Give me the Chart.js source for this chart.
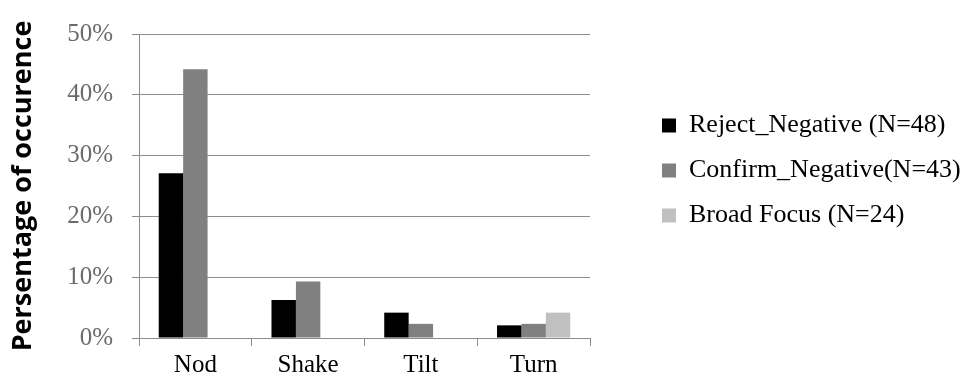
<!DOCTYPE html>
<html>
<head>
<meta charset="utf-8">
<script src="https://cdn.jsdelivr.net/npm/chart.js@4/dist/chart.umd.min.js"></script>
<style>
  html, body { margin: 0; padding: 0; background: #fff; }
</style>
</head>
<body>
<canvas id="myChart" width="965" height="382"></canvas>
<script>
// dati (percentuali)
const categories = ["Nod", "Shake", "Tilt", "Turn"];
const seriesNames = ["Reject_Negative (N=48)", "Confirm_Negative(N=43)", "Broad Focus (N=24)"];
const rejectNegative = [27.1, 6.25, 4.17, 2.08];
const confirmNegative = [44.2, 9.3, 2.33, 2.33];
const broadFocus = [null, null, null, 4.17];
const yTickValues = [0, 10, 20, 30, 40, 50];
const yTitle = "Persentage of occurence";

const serif = "'Liberation Serif', 'Times New Roman', serif";
const gridColor = "#8c8c8c";

const ctx = document.getElementById("myChart").getContext("2d");

// sposta la legenda un po' più in alto, come nell'originale
const legendShift = {
    id: "legendShift",
    afterLayout(chart) {
        chart.legend.top -= 30;
        chart.legend.bottom -= 30;
    },
};

const myChart = new Chart(ctx, {
    type: "bar",
    data: {
        labels: categories,
        datasets: [
            { label: seriesNames[0], data: rejectNegative, backgroundColor: "#000000" },
            { label: seriesNames[1], data: confirmNegative, backgroundColor: "#808080" },
            { label: seriesNames[2], data: broadFocus, backgroundColor: "#c0c0c0" },
        ],
    },
    plugins: [legendShift],
    options: {
        responsive: false,
        animation: false,
        devicePixelRatio: 1,
        layout: { padding: { top: 19, left: 0, right: 0, bottom: 0 } },
        datasets: {
            bar: { categoryPercentage: 0.65, barPercentage: 1.0 },
        },
        plugins: {
            tooltip: { enabled: false },
            legend: {
                position: "right",
                maxWidth: 322,
                labels: {
                    boxWidth: 14,
                    boxHeight: 14,
                    padding: 19,
                    color: "#000",
                    font: { family: serif, size: 26 },
                },
            },
        },
        scales: {
            x: {
                grid: {
                    offset: true,
                    drawOnChartArea: false,
                    drawTicks: true,
                    tickLength: 8,
                    color: gridColor,
                },
                border: { color: gridColor },
                ticks: {
                    color: "#000",
                    padding: 4,
                    font: { family: serif, size: 25 },
                },
                afterFit: (s) => { s.height = 44; },
            },
            y: {
                min: 0,
                max: 50,
                afterBuildTicks: (s) => { s.ticks = yTickValues.map((v) => ({ value: v })); },
                grid: { color: gridColor, tickLength: 7 },
                border: { color: gridColor },
                ticks: {
                    color: "#6b6b6b",
                    padding: 19,
                    font: { family: serif, size: 25 },
                    callback: (v) => v + "%",
                },
                title: {
                    display: true,
                    text: yTitle,
                    color: "#000",
                    padding: { top: 7, bottom: 0 },
                    font: { family: "'Open Sans', sans-serif", size: 27, weight: "bold" },
                },
                afterFit: (s) => { s.width = 139; },
            },
            // spazio vuoto tra grafico e legenda
            spacer: {
                position: "right",
                display: true,
                grid: { display: false },
                border: { display: false },
                ticks: { display: false },
                afterFit: (s) => { s.width = 53; },
            },
        },
    },
});
</script>
</body>
</html>
